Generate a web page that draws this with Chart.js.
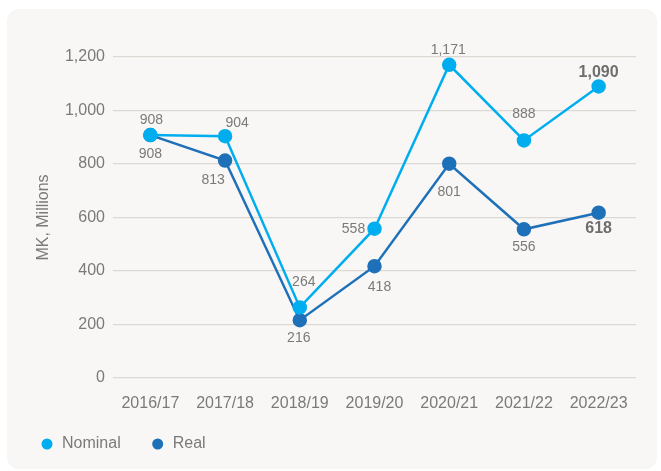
<!DOCTYPE html>
<html>
<head>
<meta charset="utf-8">
<script src="https://cdn.jsdelivr.net/npm/chart.js@4"></script>
<style>
  html, body { margin: 0; padding: 0; background: #ffffff; }
  #wrap { position: relative; width: 661px; height: 471px; overflow: hidden; }
  #panel { position: absolute; left: 7px; top: 9px; width: 650px; height: 460px;
           background: #f8f7f5; border-radius: 12px; }
  #c { position: absolute; left: 0; top: 0; }
</style>
</head>
<body>
<div id="wrap">
  <div id="panel"></div>
  <canvas id="c" width="661" height="471"></canvas>
</div>
<script>
// Fiscal years on the x axis
const years = ['2016/17', '2017/18', '2018/19', '2019/20', '2020/21', '2021/22', '2022/23'];
// Spending, MK millions
const nominal = [908, 904, 264, 558, 1171, 888, 1090];
const real = [908, 813, 216, 418, 801, 556, 618];
// Y axis ticks
const yTicks = [0, 200, 400, 600, 800, 1000, 1200];

// Value label placement relative to each point (dx, dy in px)
const nominalLabelOffset = [[1, -15], [12, -13], [4, -25], [-21, 0], [-1, -15], [0, -26], [0, -14]];
const realLabelOffset = [[0, 19], [-12, 20], [-1, 18], [5, 21], [0, 28], [0, 18], [0, 16]];

const NOMINAL_COLOR = '#00aeef';
const REAL_COLOR = '#1e71b8';
const TEXT_COLOR = '#7a7a7a';
const FONT = '"Liberation Sans", Arial, sans-serif';

const fmt = v => v.toLocaleString('en-US');

// Draws the value next to each point; the last year is emphasised in bold
const valueLabels = {
  id: 'valueLabels',
  afterDatasetsDraw(chart) {
    const ctx = chart.ctx;
    const offsets = [nominalLabelOffset, realLabelOffset];
    chart.data.datasets.forEach((ds, di) => {
      const meta = chart.getDatasetMeta(di);
      meta.data.forEach((pt, i) => {
        const last = i === ds.data.length - 1;
        const [dx, dy] = offsets[di][i];
        ctx.save();
        ctx.font = (last ? 'bold 16px ' : '14px ') + FONT;
        ctx.fillStyle = last ? '#6e6e6e' : TEXT_COLOR;
        ctx.textAlign = 'center';
        ctx.textBaseline = 'middle';
        ctx.fillText(fmt(ds.data[i]), pt.x + dx, pt.y + dy);
        ctx.restore();
      });
    });
  }
};

// Legend row under the axis: dot + series name
const legendRow = {
  id: 'legendRow',
  afterDraw(chart) {
    const ctx = chart.ctx;
    const y = 444;
    let x = 47;
    ctx.save();
    ctx.font = '16px ' + FONT;
    ctx.textBaseline = 'middle';
    ctx.textAlign = 'left';
    chart.data.datasets.forEach(ds => {
      ctx.fillStyle = ds.borderColor;
      ctx.beginPath();
      ctx.arc(x, y, 5.5, 0, Math.PI * 2);
      ctx.fill();
      ctx.fillStyle = TEXT_COLOR;
      ctx.fillText(ds.label, x + 15, y);
      x += 15 + ctx.measureText(ds.label).width + 37;
    });
    ctx.restore();
  }
};

new Chart(document.getElementById('c'), {
  type: 'line',
  data: {
    labels: years,
    datasets: [
      {
        label: 'Nominal',
        data: nominal,
        borderColor: NOMINAL_COLOR,
        backgroundColor: NOMINAL_COLOR,
        pointBackgroundColor: NOMINAL_COLOR,
        pointBorderColor: NOMINAL_COLOR,
        borderWidth: 2.5,
        pointRadius: 6,
        pointHoverRadius: 6,
        tension: 0
      },
      {
        label: 'Real',
        data: real,
        borderColor: REAL_COLOR,
        backgroundColor: REAL_COLOR,
        pointBackgroundColor: REAL_COLOR,
        pointBorderColor: REAL_COLOR,
        borderWidth: 2.5,
        pointRadius: 6,
        pointHoverRadius: 6,
        tension: 0
      }
    ]
  },
  options: {
    responsive: false,
    animation: false,
    devicePixelRatio: 1,
    layout: { padding: { left: 30, right: 25, top: 57, bottom: 63 } },
    plugins: {
      tooltip: { enabled: false },
      legend: { display: false }
    },
    scales: {
      x: {
        offset: true,
        grid: { display: false },
        border: { display: false },
        ticks: {
          color: TEXT_COLOR,
          padding: 8,
          maxRotation: 0,
          font: { family: FONT, size: 16 }
        },
        afterFit(scale) { scale.height = 30; }
      },
      y: {
        min: 0,
        max: 1200,
        afterBuildTicks(scale) { scale.ticks = yTicks.map(v => ({ value: v })); },
        grid: { color: '#dcd9d4', lineWidth: 1.2, drawTicks: false },
        border: { display: false },
        ticks: {
          color: TEXT_COLOR,
          padding: 8,
          font: { family: FONT, size: 16 },
          callback: v => fmt(v)
        },
        title: {
          display: true,
          text: 'MK, Millions',
          color: TEXT_COLOR,
          font: { family: FONT, size: 16 }
        },
        afterFit(scale) { scale.width = 83; }
      }
    }
  },
  plugins: [valueLabels, legendRow]
});
</script>
</body>
</html>
